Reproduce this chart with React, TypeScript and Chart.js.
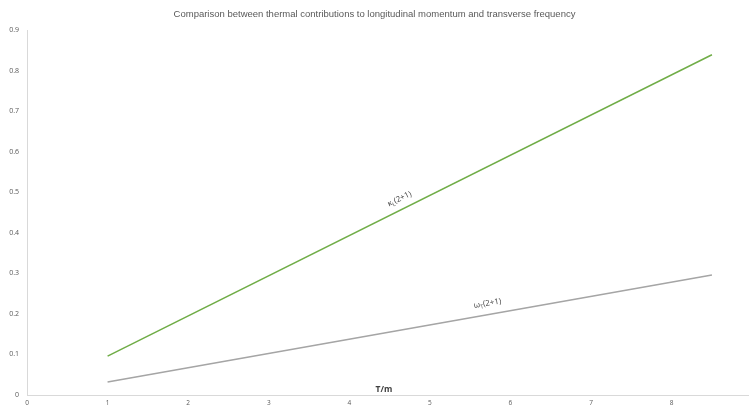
import React, { useEffect, useRef } from "react";
import { Chart, registerables } from "chart.js";

Chart.register(...registerables);

const TITLE = "Comparison between thermal contributions to longitudinal momentum and transverse frequency";
const X_TITLE = "T/m";
const xValues = [1, 8.5];
const kappaValues = [0.096, 0.84];
const omegaValues = [0.032, 0.296];
const xTicks = [0, 1, 2, 3, 4, 5, 6, 7, 8];
const yTicks = [0, 0.1, 0.2, 0.3, 0.4, 0.5, 0.6, 0.7, 0.8, 0.9];

const GREEN = "#70ad47";
const GRAY = "#a5a5a5";
const AXIS = "#d9d9d9";
const TEXT = "#595959";

// series labels: [main, sub, rest], anchor x in data units
const seriesLabels = [
  { parts: ["κ", "L", "(2+1)"], x: 4.68, dataset: 0, lift: 11 },
  { parts: ["ω", "T", "(2+1)"], x: 5.74, dataset: 1, lift: 12 },
];

const labelPlugin = {
  id: "seriesLabels",
  afterDatasetsDraw(chart: any) {
    const { ctx, scales } = chart;
    const xs = scales.x;
    const ys = scales.y;
    ctx.save();
    seriesLabels.forEach((lab) => {
      const vals = lab.dataset === 0 ? kappaValues : omegaValues;
      const x0 = xs.getPixelForValue(xValues[0]);
      const y0 = ys.getPixelForValue(vals[0]);
      const x1 = xs.getPixelForValue(xValues[1]);
      const y1 = ys.getPixelForValue(vals[1]);
      const ang = Math.atan2(y1 - y0, x1 - x0);
      const t = (lab.x - xValues[0]) / (xValues[1] - xValues[0]);
      const px = x0 + (x1 - x0) * t;
      const py = y0 + (y1 - y0) * t;
      const cx = px + Math.sin(ang) * lab.lift;
      const cy = py - Math.cos(ang) * lab.lift;
      ctx.translate(cx, cy);
      ctx.rotate(ang * 0.95);
      ctx.fillStyle = "#404040";
      ctx.textBaseline = "alphabetic";
      const fMain = "8px 'Open Sans', sans-serif";
      const fSub = "5.5px 'Open Sans', sans-serif";
      ctx.font = fMain;
      const w0 = ctx.measureText(lab.parts[0]).width;
      const w2 = ctx.measureText(lab.parts[2]).width;
      ctx.font = fSub;
      const w1 = ctx.measureText(lab.parts[1]).width;
      let x = -(w0 + w1 + w2) / 2;
      ctx.font = fMain;
      ctx.fillText(lab.parts[0], x, 3);
      x += w0;
      ctx.font = fSub;
      ctx.fillText(lab.parts[1], x, 5);
      x += w1;
      ctx.font = fMain;
      ctx.fillText(lab.parts[2], x, 3);
      ctx.setTransform(1, 0, 0, 1, 0, 0);
    });
    // x axis title
    ctx.font = "bold 8.5px 'Open Sans', sans-serif";
    ctx.fillStyle = "#404040";
    ctx.textAlign = "center";
    ctx.textBaseline = "bottom";
    ctx.fillText(X_TITLE, xs.getPixelForValue(4.43), ys.getPixelForValue(0) - 1);
    ctx.restore();
  },
};

export default function App() {
  const ref = useRef<HTMLCanvasElement>(null);
  useEffect(() => {
    document.body.style.margin = "0";
    const chart = new Chart(ref.current!, {
      type: "scatter",
      data: {
        datasets: [
          {
            label: "κL(2+1)",
            data: xValues.map((x, i) => ({ x, y: kappaValues[i] })),
            showLine: true,
            borderColor: GREEN,
            backgroundColor: GREEN,
            borderWidth: 1.5,
            pointRadius: 0,
          },
          {
            label: "ωT(2+1)",
            data: xValues.map((x, i) => ({ x, y: omegaValues[i] })),
            showLine: true,
            borderColor: GRAY,
            backgroundColor: GRAY,
            borderWidth: 1.5,
            pointRadius: 0,
          },
        ],
      },
      options: {
        responsive: false,
        animation: false,
        layout: { padding: { top: 0, right: 0, left: 0, bottom: 0 } },
        plugins: {
          legend: { display: false },
          tooltip: { enabled: false },
          title: {
            display: true,
            text: TITLE,
            color: TEXT,
            font: { family: "'Liberation Sans', sans-serif", size: 9.5, weight: "normal" },
            padding: { top: 9, bottom: 10 },
          },
        },
        scales: {
          x: {
            type: "linear",
            min: 0,
            max: 8.96,
            grid: { display: false, drawTicks: false },
            border: { display: true, color: AXIS, width: 1 },
            afterBuildTicks: (s: any) => {
              s.ticks = xTicks.map((v) => ({ value: v }));
            },
            afterFit: (s: any) => {
              s.height = 11;
              s.paddingLeft = 0;
              s.paddingRight = 0;
            },
            ticks: {
              color: TEXT,
              font: { family: "'Open Sans', sans-serif", size: 6.5 },
              padding: 4,
              maxRotation: 0,
              autoSkip: false,
            },
          },
          y: {
            type: "linear",
            min: 0,
            max: 0.9,
            grid: { display: false, drawTicks: false },
            border: { display: true, color: AXIS, width: 1 },
            afterBuildTicks: (s: any) => {
              s.ticks = yTicks.map((v) => ({ value: v }));
            },
            afterFit: (s: any) => {
              s.width = 27;
              s.paddingTop = 0;
              s.paddingBottom = 0;
            },
            ticks: {
              color: TEXT,
              font: { family: "'Open Sans', sans-serif", size: 7 },
              padding: 8,
              callback: (v: any) => String(Math.round(Number(v) * 10) / 10),
            },
          },
        },
      },
      plugins: [labelPlugin],
    });
    return () => chart.destroy();
  }, []);
  return <canvas ref={ref} width={749} height={406} style={{ display: "block" }} />;
}
